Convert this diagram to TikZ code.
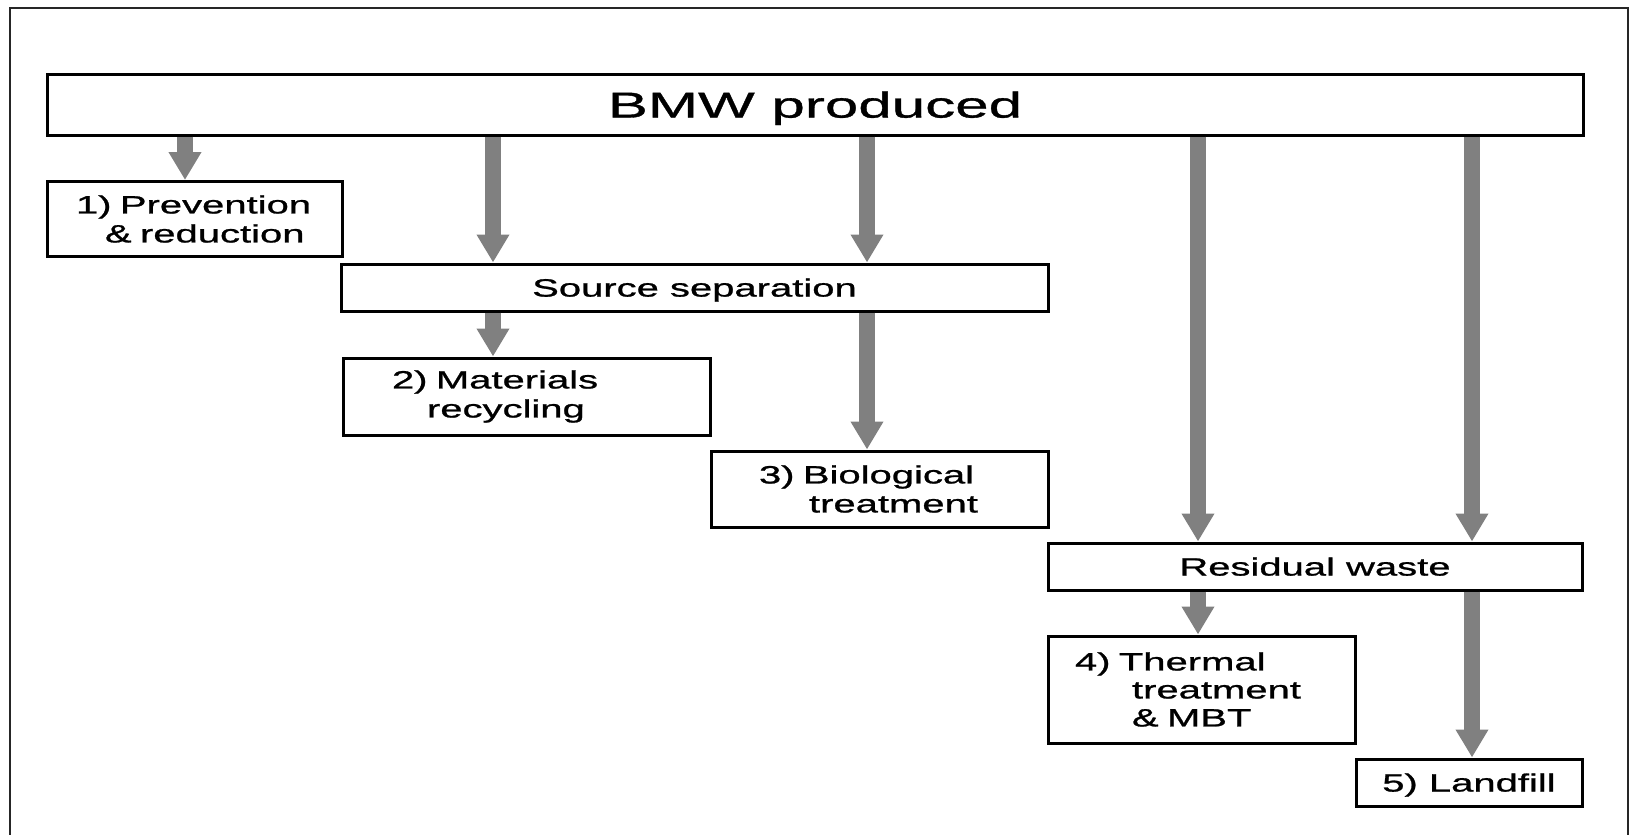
\documentclass[tikz,border=0pt]{standalone}
\usepackage{fontspec}
\usetikzlibrary{arrows.meta}
\newfontfamily\wf[FakeStretch=1.6,FakeBold=1]{Liberation Sans}
\newfontfamily\wfb[FakeStretch=1.67,FakeBold=1]{Liberation Sans}
\tikzset{
  box/.style={draw=black, line width=3pt, fill=white, inner sep=0pt,
    font=\wf\fontsize{25}{29}\selectfont},
  lbox/.style={box, align=left},
  cbox/.style={box, align=center, text depth=-3pt},
  flow/.style={draw=gray, line width=16pt,
    -{Triangle[width=31pt,length=28pt]}},
  frame/.style={draw=black!85, line width=2pt},
}
\begin{document}
\begin{tikzpicture}[x=1pt,y=-1pt]
\useasboundingbox (0,0) rectangle (1634,835);
\draw[frame] (10,835) -- (10,8) -- (1628,8) -- (1628,835);

\node[cbox, minimum width=1536pt, minimum height=61pt,
  font=\wfb\fontsize{36}{40}\selectfont] (bmw) at (815,104.5) {BMW produced};
\node[lbox, text width=295pt, minimum height=75pt] (b1) at (194.5,219)
  {\hspace*{29pt}1) Prevention\\\hspace*{58pt}\& reduction};
\node[cbox, minimum width=707pt, minimum height=47pt] (src) at (694.5,287.5)
  {Source separation};
\node[lbox, text width=367pt, minimum height=77pt] (b2) at (526.5,396.5)
  {\hspace*{49pt}2) Materials\\\hspace*{84pt}recycling};
\node[lbox, text width=337pt, minimum height=76pt] (b3) at (879.5,489)
  {\hspace*{48pt}3) Biological\\\hspace*{98pt}treatment};
\node[cbox, minimum width=534pt, minimum height=47pt] (res) at (1315,566.5)
  {Residual waste};
\node[lbox, text width=307pt, minimum height=107pt,
  font=\wf\fontsize{25}{28}\selectfont] (b4) at (1201.5,689.5)
  {\hspace*{27pt}4) Thermal\\\hspace*{84pt}treatment\\\hspace*{84pt}\& MBT};
\node[cbox, minimum width=226pt, minimum height=47pt] (b5) at (1469,782.5)
  {5) Landfill};

\coordinate (xa) at (185,0);
\coordinate (xb) at (493,0);
\coordinate (xc) at (867,0);
\coordinate (xd) at (1198,0);
\coordinate (xe) at (1472,0);

\draw[flow] (bmw.south -| xa) -- (b1.north -| xa);
\draw[flow] (bmw.south -| xb) -- (src.north -| xb);
\draw[flow] (bmw.south -| xc) -- (src.north -| xc);
\draw[flow] (bmw.south -| xd) -- (res.north -| xd);
\draw[flow] (bmw.south -| xe) -- (res.north -| xe);
\draw[flow] (src.south -| xb) -- (b2.north -| xb);
\draw[flow] (src.south -| xc) -- (b3.north -| xc);
\draw[flow] (res.south -| xd) -- (b4.north -| xd);
\draw[flow] (res.south -| xe) -- (b5.north -| xe);
\end{tikzpicture}
\end{document}
